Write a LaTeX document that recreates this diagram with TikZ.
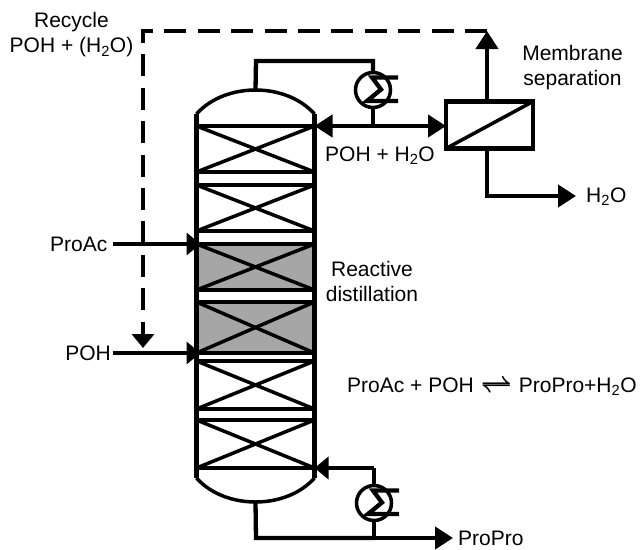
\documentclass[tikz,border=0pt]{standalone}
\usepackage{fontspec}
\setmainfont{Liberation Sans}
\usetikzlibrary{arrows.meta,positioning,calc}
\definecolor{rxgrey}{HTML}{A6A6A6}
\tikzset{
  bed/.style = {draw, line width=4.3pt, minimum width=118pt, minimum height=46pt, inner sep=0pt, outer sep=0pt},
  rbed/.style = {bed, fill=rxgrey},
  exch/.style = {draw, circle, line width=3.5pt, minimum size=35pt, inner sep=0pt, outer sep=0pt},
  memb/.style = {draw, line width=4.5pt, minimum width=87pt, minimum height=47pt, inner sep=0pt, outer sep=0pt},
  pipe/.style = {line width=4.3pt},
  arrow/.style = {pipe, -{Triangle[length=18pt,width=22pt]}},
  feed/.style = {pipe, -{Triangle[length=14pt,width=22pt]}},
  lbl/.style = {inner sep=0pt, font=\fontsize{21}{25}\selectfont, align=center}
}
\begin{document}
\begin{tikzpicture}[x=1pt, y=-1pt, line join=miter]
        \useasboundingbox (0,0) rectangle (640,549);
        % column packing
        \node[bed] (b1) at (255.5,149) {};
        \node[bed, below=13pt of b1] (b2) {};
        \node[rbed, below=13pt of b2] (b3) {};
        \node[rbed, minimum height=51pt, below=12pt of b3] (b4) {};
        \node[bed, minimum height=48pt, below=8pt of b4] (b5) {};
        \node[bed, minimum height=48pt, below=11pt of b5] (b6) {};
        \foreach \n in {b1,b2,b3,b4,b5,b6} {
          \draw[line width=3.5pt] (\n.north west) -- (\n.south east);
          \draw[line width=3.5pt] (\n.south west) -- (\n.north east);
        }
        % shell
        \coordinate (domeT) at (255.5,90);
        \coordinate (domeB) at (255.5,502);
        \draw[line width=4.5pt] (b1.north west |- 0,114) -- (b6.south west |- 0,478);
        \draw[line width=4.5pt] (b1.north east |- 0,114) -- (b6.south east |- 0,478);
        \draw[line width=3.5pt] (b1.north west |- 0,114) .. controls (225,82) and (286,82) .. (b1.north east |- 0,114);
        \draw[line width=3.5pt] (b6.south west |- 0,478) .. controls (225,510) and (286,510) .. (b6.south east |- 0,478);
        % exchangers and membrane
        \node[exch] (cond) at (373,90) {};
        \node[exch] (reb) at (374,503) {};
        \node[memb] (mem) at (489.5,125) {};
        \draw[line width=3.5pt] (mem.south west) -- (mem.north east);
        \foreach \n in {cond,reb} {
          \draw[pipe, shift={(\n)}] (25,-12.5) -- (-1,-12.5) -- (8,-0.5) -- (-6,11) -- (25,11);
        }
        % labels
        \node[lbl, left=89pt of b3.north west] (proac) {ProAc};
        \node[lbl, left=85.5pt of b4.south west] (poh) {POH};
        \node[lbl] (recyc) at (71.5,35) {Recycle\\POH + (H\textsubscript{2}O)};
        \node[lbl] (msep) at (572.5,68) {Membrane\\separation};
        \node[lbl] (rdist) at (372,281) {Reactive\\distillation};
        \node[lbl] (dist) at (380,156) {POH + H\textsubscript{2}O};
        \node[lbl, anchor=west] (water) at (586,197) {H\textsubscript{2}O};
        \node[lbl, anchor=west] (propro) at (458,538) {ProPro};
        \node[lbl, anchor=west] (rxn) at (347,387) {ProAc + POH\hspace{7pt}\scalebox{1.3}{\boldmath$\rightleftharpoons$}\hspace{7pt}ProPro+H\textsubscript{2}O};
        % junctions
        \coordinate (topL) at (256,61);
        \coordinate (topR) at (cond.north |- topL);
        \coordinate (distJ) at (cond.south |- b1.north);
        \coordinate (membT) at (487,31);
        \coordinate (membB) at (487,196);
        \coordinate (recL) at (143,31);
        \coordinate (recB) at (143,350);
        \coordinate (botL) at (256,538);
        \coordinate (botR) at (reb.south |- botL);
        \coordinate (rebT) at (reb.north |- b6.south);
        % pipes
        \draw[pipe] (domeT) -- (topL) -- (topR) -- (cond.north);
        \draw[pipe] (cond.south) -- (distJ);
        \draw[pipe, {Triangle[length=18pt,width=22pt]}-{Triangle[length=18pt,width=22pt]}] (b1.north east) -- (mem.west |- b1.north east);
        \draw[arrow] (mem.north -| membT) -- (membT);
        \draw[arrow] (mem.south -| membB) -- (membB) -- (576,196) coordinate (waterE);
        \draw[feed] (proac.east) ++(5,0) -- ($(b3.north west)+(4,0)$);
        \draw[feed] (poh.east) ++(1.5,0) -- ($(b4.south west)+(4,0)$);
        \draw[pipe, dash pattern=on 22pt off 11.4pt] (membT) -- (recL) -- ($(recB)+(0,-16)$);
        \draw[feed] ($(recB)+(0,-17)$) -- ($(recB)+(0,-2)$);
        \draw[pipe] (domeB) -- (botL) -- (botR);
        \draw[pipe] (reb.north) -- (rebT);
        \draw[feed] (rebT) -- (b6.south east);
        \draw[arrow] (botL) -- (453,538) coordinate (proE);
        \draw[pipe] (reb.south) -- (botR);
    \end{tikzpicture}
\end{document}
